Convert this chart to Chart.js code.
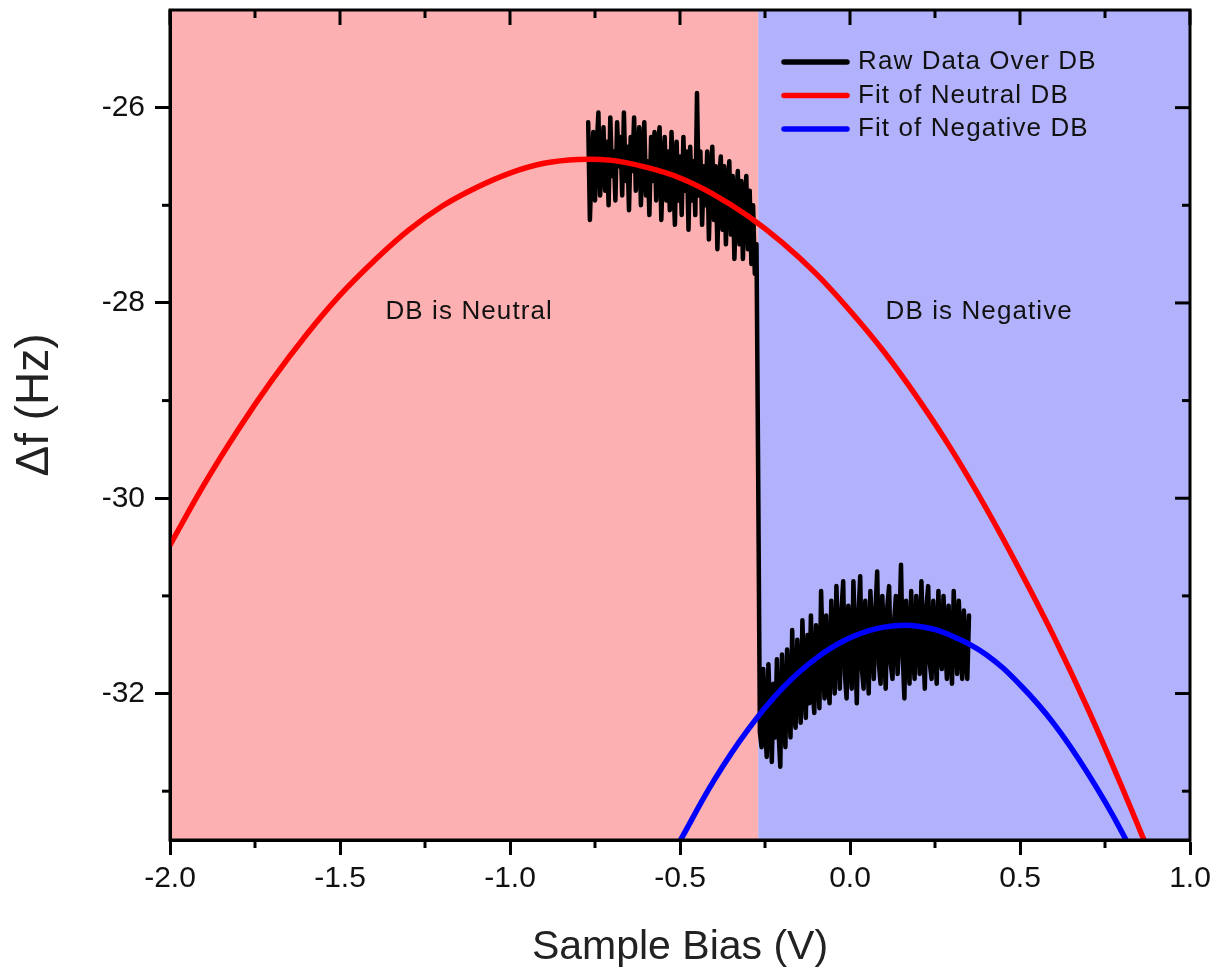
<!DOCTYPE html>
<html>
<head>
<meta charset="utf-8">
<title>Δf vs Sample Bias</title>
<script src="https://cdn.jsdelivr.net/npm/chart.js@4.4.1/dist/chart.umd.min.js"></script>
<style>
  html, body { margin: 0; padding: 0; background: #fff; }
  #wrap { width: 1217px; height: 976px; }
</style>
</head>
<body>
<div id="wrap"><canvas id="chart" width="1217" height="976"></canvas></div>
<script>
// ---- data ----
// raw trace: neutral part, the jump, then the negative part
const rawBias = [
  -0.770, -0.765, -0.760, -0.755, -0.750, -0.745, -0.740, -0.735, -0.730, -0.725,
  -0.720, -0.715, -0.710, -0.705, -0.700, -0.695, -0.690, -0.685, -0.680, -0.675,
  -0.670, -0.665, -0.660, -0.655, -0.650, -0.645, -0.640, -0.635, -0.630, -0.625,
  -0.620, -0.615, -0.610, -0.605, -0.600, -0.595, -0.590, -0.585, -0.580, -0.575,
  -0.570, -0.565, -0.560, -0.555, -0.550, -0.545, -0.540, -0.535, -0.530, -0.525,
  -0.520, -0.515, -0.510, -0.505, -0.500, -0.495, -0.490, -0.485, -0.480, -0.475,
  -0.470, -0.465, -0.460, -0.455, -0.450, -0.445, -0.440, -0.435, -0.430, -0.425,
  -0.420, -0.415, -0.410, -0.405, -0.400, -0.395, -0.390, -0.385, -0.380, -0.375,
  -0.370, -0.365, -0.360, -0.355, -0.350, -0.345, -0.340, -0.335, -0.330, -0.325,
  -0.320, -0.315, -0.310, -0.305, -0.300, -0.295, -0.290, -0.285, -0.280,
  -0.275, -0.270, -0.265,
  -0.260, -0.255, -0.250, -0.245, -0.240, -0.235, -0.230, -0.225, -0.220, -0.215,
  -0.210, -0.205, -0.200, -0.195, -0.190, -0.185, -0.180, -0.175, -0.170, -0.165,
  -0.160, -0.155, -0.150, -0.145, -0.140, -0.135, -0.130, -0.125, -0.120, -0.115,
  -0.110, -0.105, -0.100, -0.095, -0.090, -0.085, -0.080, -0.075, -0.070, -0.065,
  -0.060, -0.055, -0.050, -0.045, -0.040, -0.035, -0.030, -0.025, -0.020, -0.015,
  -0.010, -0.005, 0.000, 0.005, 0.010, 0.015, 0.020, 0.025, 0.030, 0.035,
  0.040, 0.045, 0.050, 0.055, 0.060, 0.065, 0.070, 0.075, 0.080, 0.085,
  0.090, 0.095, 0.100, 0.105, 0.110, 0.115, 0.120, 0.125, 0.130, 0.135,
  0.140, 0.145, 0.150, 0.155, 0.160, 0.165, 0.170, 0.175, 0.180, 0.185,
  0.190, 0.195, 0.200, 0.205, 0.210, 0.215, 0.220, 0.225, 0.230, 0.235,
  0.240, 0.245, 0.250, 0.255, 0.260, 0.265, 0.270, 0.275, 0.280, 0.285,
  0.290, 0.295, 0.300, 0.305, 0.310, 0.315, 0.320, 0.325, 0.330, 0.335,
  0.340, 0.345, 0.350
];
const rawShift = [
  -26.15, -27.15, -26.60, -26.25, -26.95, -26.40, -26.05, -26.90, -26.55, -26.20,
  -26.85, -26.35, -27.00, -26.10, -26.70, -26.45, -26.95, -26.15, -26.60, -26.30,
  -26.90, -26.05, -26.75, -26.40, -27.05, -26.30, -26.65, -26.10, -26.85, -26.50,
  -26.20, -27.00, -26.45, -26.15, -26.90, -26.55, -27.10, -26.30, -26.75, -26.25,
  -26.95, -26.40, -26.20, -27.15, -26.60, -26.30, -26.95, -26.45, -27.05, -26.25,
  -26.70, -27.20, -26.35, -26.95, -26.50, -27.10, -26.30, -26.85, -26.45, -27.25,
  -26.40, -26.95, -26.55, -27.10, -25.85, -26.90, -26.45, -27.20, -26.60, -27.00,
  -26.45, -27.35, -26.70, -26.40, -27.15, -26.60, -27.45, -26.75, -26.50, -27.25,
  -26.60, -27.40, -26.85, -26.55, -27.30, -26.70, -27.55, -26.95, -26.65, -27.40,
  -26.75, -27.55, -26.95, -26.70, -27.45, -26.85, -27.60, -27.00, -27.70,
  -27.40, -29.80, -32.40,
  -32.55, -31.75, -32.30, -32.65, -31.70, -32.20, -32.70, -31.90, -32.45, -31.65,
  -32.40, -32.75, -31.60, -32.15, -32.55, -31.55, -32.05, -32.45, -31.35, -32.20,
  -32.35, -31.45, -31.95, -32.30, -31.25, -31.85, -32.25, -31.40, -32.10, -31.20,
  -31.95, -32.20, -31.30, -31.75, -32.15, -30.95, -31.60, -32.05, -31.20, -31.90,
  -32.10, -31.05, -31.65, -32.00, -30.90, -31.45, -31.95, -31.15, -30.85, -31.80,
  -32.05, -31.10, -31.55, -31.95, -30.85, -31.40, -32.10, -31.20, -30.80, -31.75,
  -31.95, -31.05, -31.50, -32.00, -30.95, -31.35, -31.85, -31.15, -30.75, -31.70,
  -31.90, -31.00, -31.45, -31.95, -31.10, -30.90, -31.70, -31.85, -31.25, -31.00,
  -31.80, -31.35, -30.68, -31.60, -32.05, -31.05, -31.45, -31.90, -30.95, -31.55,
  -31.85, -31.00, -31.35, -31.80, -30.85, -31.50, -31.95, -31.10, -30.90, -31.70,
  -31.85, -31.05, -31.40, -31.90, -30.95, -31.55, -31.75, -31.00, -31.45, -31.85,
  -31.10, -31.55, -31.90, -30.95, -31.40, -31.80, -31.05, -31.50, -31.85, -31.15,
  -31.60, -31.85, -31.20
];

const neutralBias = [
  -2.0, -1.9, -1.8, -1.7, -1.6, -1.5, -1.4, -1.3, -1.2, -1.1,
  -1.0, -0.9, -0.8, -0.7, -0.6, -0.5, -0.4, -0.3, -0.2, -0.1,
  0.0, 0.1, 0.2, 0.3, 0.4, 0.5, 0.6, 0.7, 0.8, 0.9
];
const neutralFit = [
  -30.48, -29.86, -29.30, -28.79, -28.33, -27.92, -27.57, -27.26, -27.01, -26.82,
  -26.67, -26.57, -26.53, -26.54, -26.61, -26.72, -26.89, -27.11, -27.38, -27.70,
  -28.08, -28.50, -28.98, -29.51, -30.10, -30.74, -31.42, -32.16, -32.96, -33.80
];

const negativeBias = [-0.5, -0.4, -0.3, -0.2, -0.1, 0.0, 0.1, 0.2, 0.3, 0.4, 0.5, 0.6, 0.7, 0.8, 0.9];
const negativeFit = [
  -33.51, -32.89, -32.37, -31.95, -31.64, -31.43, -31.32, -31.31, -31.41, -31.60,
  -31.91, -32.31, -32.82, -33.42, -34.14
];

const seriesNames = ['Raw Data Over DB', 'Fit of Neutral DB', 'Fit of Negative DB'];
const seriesColors = ['#000000', '#ff0000', '#0000ff'];

const xTickValues = [-2.0, -1.5, -1.0, -0.5, 0.0, 0.5, 1.0];
const xMinorValues = [-1.75, -1.25, -0.75, -0.25, 0.25, 0.75];
const yTickValues = [-32, -30, -28, -26];
const yMinorValues = [-33, -31, -29, -27];

const chargeSwitch = -0.27;          // bias where the DB becomes negative
const regionNames = ['DB is Neutral', 'DB is Negative'];
const regionLabelBias = [-1.12, 0.38];
const regionLabelShift = -28.09;

// ---- styling ----
const FONT = '"Liberation Sans", Arial, sans-serif';
const neutralFill = '#fdb0b1';
const negativeFill = '#b2b2fc';
const MAJOR = 15, MINOR = 8;

Chart.defaults.font.family = FONT;
Chart.defaults.color = '#111';

function seg(ctx, x1, y1, x2, y2) {
  ctx.beginPath();
  ctx.moveTo(x1, y1);
  ctx.lineTo(x2, y2);
  ctx.stroke();
}

const decorPlugin = {
  id: 'decor',
  beforeDraw(chart) {
    const { ctx, chartArea: a, scales: { x } } = chart;
    const xs = x.getPixelForValue(chargeSwitch);
    ctx.save();
    ctx.fillStyle = neutralFill;
    ctx.fillRect(a.left, a.top, xs - a.left, a.bottom - a.top);
    ctx.fillStyle = negativeFill;
    ctx.fillRect(xs, a.top, a.right - xs, a.bottom - a.top);
    ctx.restore();
  },
  beforeDatasetsDraw(chart) {
    const { ctx, chartArea: a, scales: { x, y } } = chart;
    ctx.save();
    ctx.font = '26px ' + FONT;
    ctx.letterSpacing = '1.1px';
    ctx.fillStyle = '#111';
    ctx.textAlign = 'center';
    ctx.textBaseline = 'middle';
    regionNames.forEach((t, i) => {
      ctx.fillText(t, x.getPixelForValue(regionLabelBias[i]), y.getPixelForValue(regionLabelShift));
    });
    // y axis title, a little above the middle as in the figure
    ctx.letterSpacing = '0px';
    ctx.font = '46px ' + FONT;
    ctx.fillStyle = '#222';
    ctx.translate(35, (a.top + a.bottom) / 2 - 20);
    ctx.rotate(-Math.PI / 2);
    ctx.fillText('Δf (Hz)', 0, 0);
    ctx.restore();
  },
  afterDatasetsDraw(chart) {
    const { ctx, chartArea: a, scales: { x, y } } = chart;
    ctx.save();
    ctx.strokeStyle = '#000';
    ctx.lineWidth = 3;
    ctx.lineCap = 'butt';
    // mirrored major ticks (inward) on top and right
    xTickValues.forEach(v => { const px = x.getPixelForValue(v); seg(ctx, px, a.top, px, a.top + MAJOR); });
    yTickValues.forEach(v => { const py = y.getPixelForValue(v); seg(ctx, a.right - MAJOR, py, a.right, py); });
    // minor ticks
    xMinorValues.forEach(v => {
      const px = x.getPixelForValue(v);
      seg(ctx, px, a.bottom, px, a.bottom + MINOR);
      seg(ctx, px, a.top, px, a.top + MINOR);
    });
    yMinorValues.forEach(v => {
      const py = y.getPixelForValue(v);
      seg(ctx, a.left - MINOR, py, a.left, py);
      seg(ctx, a.right - MINOR, py, a.right, py);
    });
    ctx.lineJoin = 'miter';
    ctx.strokeRect(a.left, a.top, a.right - a.left, a.bottom - a.top);

    // legend
    ctx.font = '26px ' + FONT;
    ctx.letterSpacing = '1.1px';
    ctx.textBaseline = 'middle';
    ctx.textAlign = 'left';
    ctx.lineCap = 'round';
    ctx.lineWidth = 5.5;
    chart.data.datasets.forEach((ds, i) => {
      const ly = a.top + 52 + i * 33.5;
      ctx.strokeStyle = ds.borderColor;
      seg(ctx, a.right - 406, ly, a.right - 343, ly);
      ctx.fillStyle = '#111';
      ctx.fillText(ds.label, a.right - 332, ly);
    });
    ctx.restore();
  }
};

const toPoints = (xs, ys) => xs.map((v, i) => ({ x: v, y: ys[i] }));

new Chart(document.getElementById('chart'), {
  type: 'line',
  data: {
    datasets: [
      {
        label: seriesNames[0],
        data: toPoints(rawBias, rawShift),
        borderColor: seriesColors[0],
        borderWidth: 4.5,
        borderCapStyle: 'round',
        borderJoinStyle: 'round',
        pointRadius: 0,
        tension: 0,
        order: 3
      },
      {
        label: seriesNames[1],
        data: toPoints(neutralBias, neutralFit),
        borderColor: seriesColors[1],
        borderWidth: 5.5,
        pointRadius: 0,
        tension: 0.4,
        order: 2
      },
      {
        label: seriesNames[2],
        data: toPoints(negativeBias, negativeFit),
        borderColor: seriesColors[2],
        borderWidth: 5.5,
        pointRadius: 0,
        tension: 0.4,
        order: 1
      }
    ]
  },
  options: {
    responsive: false,
    animation: false,
    events: [],
    layout: { padding: { top: 10, right: 27, left: 0, bottom: 0 } },
    plugins: { legend: { display: false }, tooltip: { enabled: false } },
    scales: {
      x: {
        type: 'linear',
        min: -2.0,
        max: 1.0,
        afterBuildTicks: s => { s.ticks = xTickValues.map(v => ({ value: v })); },
        afterFit: s => { s.height = 136; s.paddingLeft = 0; s.paddingRight = 0; },
        ticks: {
          font: { size: 30 },
          color: '#111',
          padding: 6,
          maxRotation: 0,
          callback: v => Number(v).toFixed(1)
        },
        grid: { drawOnChartArea: false, tickLength: MAJOR, tickWidth: 3, tickColor: '#000' },
        border: { display: true, width: 3, color: '#000' },
        title: {
          display: true,
          text: 'Sample Bias (V)',
          font: { size: 41 },
          color: '#222',
          padding: { top: 0, bottom: 4 }
        }
      },
      y: {
        type: 'linear',
        min: -33.5,
        max: -25,
        afterBuildTicks: s => { s.ticks = yTickValues.map(v => ({ value: v })); },
        afterFit: s => { s.width = 170; s.paddingTop = 0; s.paddingBottom = 0; },
        ticks: {
          font: { size: 30 },
          color: '#111',
          padding: 10,
          callback: v => String(v)
        },
        grid: { drawOnChartArea: false, tickLength: MAJOR, tickWidth: 3, tickColor: '#000' },
        border: { display: true, width: 3, color: '#000' }
      }
    }
  },
  plugins: [decorPlugin]
});
</script>
</body>
</html>
